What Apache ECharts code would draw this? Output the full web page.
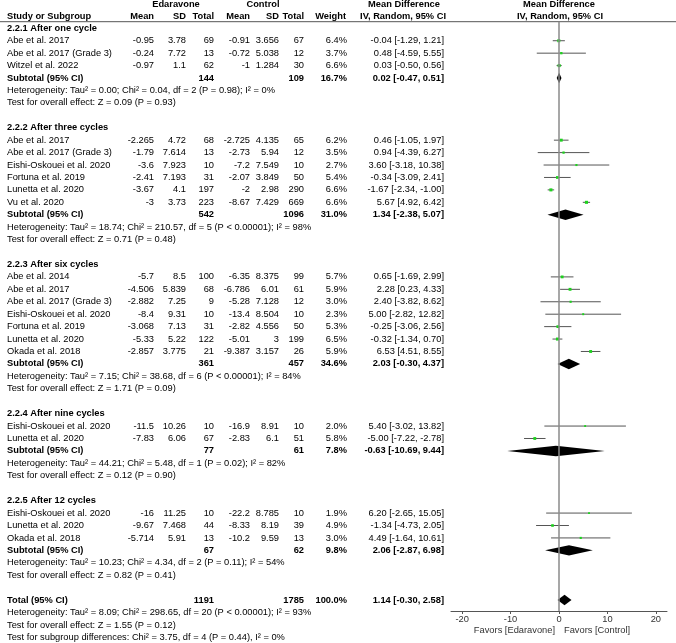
<!DOCTYPE html>
<html>
<head>
<meta charset="utf-8">
<script src="https://cdn.jsdelivr.net/npm/echarts@6/dist/echarts.min.js"></script>
<style>
html, body { margin: 0; padding: 0; background: #fff; }
#main { width: 676px; height: 643px; }
</style>
</head>
<body>
<div id="main"></div>
<script>
// subgroups
var groupTitles = ['2.2.1 After one cycle', '2.2.2 After three cycles', '2.2.3 After six cycles', '2.2.4 After nine cycles', '2.2.5 After 12 cycles'];
var subE = [144, 542, 361, 77, 67];
var subC = [109, 1096, 457, 61, 62];
var subW = [16.7, 31.0, 34.6, 7.8, 9.8];
var subMd = [0.02, 1.34, 2.03, -0.63, 2.06];
var subLo = [-0.47, -2.38, -0.30, -10.69, -2.87];
var subHi = [0.51, 5.07, 4.37, 9.44, 6.98];
var hetText = [
    'Heterogeneity: Tau² = 0.00; Chi² = 0.04, df = 2 (P = 0.98); I² = 0%',
    'Heterogeneity: Tau² = 18.74; Chi² = 210.57, df = 5 (P < 0.00001); I² = 98%',
    'Heterogeneity: Tau² = 7.15; Chi² = 38.68, df = 6 (P < 0.00001); I² = 84%',
    'Heterogeneity: Tau² = 44.21; Chi² = 5.48, df = 1 (P = 0.02); I² = 82%',
    'Heterogeneity: Tau² = 10.23; Chi² = 4.34, df = 2 (P = 0.11); I² = 54%'
];
var testText = [
    'Test for overall effect: Z = 0.09 (P = 0.93)',
    'Test for overall effect: Z = 0.71 (P = 0.48)',
    'Test for overall effect: Z = 1.71 (P = 0.09)',
    'Test for overall effect: Z = 0.12 (P = 0.90)',
    'Test for overall effect: Z = 0.82 (P = 0.41)'
];

// studies
var studyGroup = [0, 0, 0, 1, 1, 1, 1, 1, 1, 2, 2, 2, 2, 2, 2, 2, 3, 3, 4, 4, 4];
var studyNames = ['Abe et al. 2017', 'Abe et al. 2017 (Grade 3)', 'Witzel et al. 2022',
    'Abe et al. 2017', 'Abe et al. 2017 (Grade 3)', 'Eishi-Oskouei et al. 2020', 'Fortuna et al. 2019', 'Lunetta et al. 2020', 'Vu et al. 2020',
    'Abe et al. 2014', 'Abe et al. 2017', 'Abe et al. 2017 (Grade 3)', 'Eishi-Oskouei et al. 2020', 'Fortuna et al. 2019', 'Lunetta et al. 2020', 'Okada et al. 2018',
    'Eishi-Oskouei et al. 2020', 'Lunetta et al. 2020',
    'Eishi-Oskouei et al. 2020', 'Lunetta et al. 2020', 'Okada et al. 2018'];
var eMean = [-0.95, -0.24, -0.97, -2.265, -1.79, -3.6, -2.41, -3.67, -3, -5.7, -4.506, -2.882, -8.4, -3.068, -5.33, -2.857, -11.5, -7.83, -16, -9.67, -5.714];
var eSD = [3.78, 7.72, 1.1, 4.72, 7.614, 7.923, 7.193, 4.1, 3.73, 8.5, 5.839, 7.25, 9.31, 7.13, 5.22, 3.775, 10.26, 6.06, 11.25, 7.468, 5.91];
var eN = [69, 13, 62, 68, 13, 10, 31, 197, 223, 100, 68, 9, 10, 31, 122, 21, 10, 67, 10, 44, 13];
var cMean = [-0.91, -0.72, -1, -2.725, -2.73, -7.2, -2.07, -2, -8.67, -6.35, -6.786, -5.28, -13.4, -2.82, -5.01, -9.387, -16.9, -2.83, -22.2, -8.33, -10.2];
var cSD = [3.656, 5.038, 1.284, 4.135, 5.94, 7.549, 3.849, 2.98, 7.429, 8.375, 6.01, 7.128, 8.504, 4.556, 3, 3.157, 8.91, 6.1, 8.785, 8.19, 9.59];
var cN = [67, 12, 30, 65, 12, 10, 50, 290, 669, 99, 61, 12, 10, 50, 199, 26, 10, 51, 10, 39, 13];
var weight = [6.4, 3.7, 6.6, 6.2, 3.5, 2.7, 5.4, 6.6, 6.6, 5.7, 5.9, 3.0, 2.3, 5.3, 6.5, 5.9, 2.0, 5.8, 1.9, 4.9, 3.0];
var md = [-0.04, 0.48, 0.03, 0.46, 0.94, 3.60, -0.34, -1.67, 5.67, 0.65, 2.28, 2.40, 5.00, -0.25, -0.32, 6.53, 5.40, -5.00, 6.20, -1.34, 4.49];
var ciLo = [-1.29, -4.59, -0.50, -1.05, -4.39, -3.18, -3.09, -2.34, 4.92, -1.69, 0.23, -3.82, -2.82, -3.06, -1.34, 4.51, -3.02, -7.22, -2.65, -4.73, -1.64];
var ciHi = [1.21, 5.55, 0.56, 1.97, 6.27, 10.38, 2.41, -1.00, 6.42, 2.99, 4.33, 8.62, 12.82, 2.56, 0.70, 8.55, 13.82, -2.78, 15.05, 2.05, 10.61];

// overall
var totalE = 1191, totalC = 1785, totalW = 100.0;
var totalMd = 1.14, totalLo = -0.30, totalHi = 2.58;
var totalNotes = [
    'Heterogeneity: Tau² = 8.09; Chi² = 298.65, df = 20 (P < 0.00001); I² = 93%',
    'Test for overall effect: Z = 1.55 (P = 0.12)',
    'Test for subgroup differences: Chi² = 3.75, df = 4 (P = 0.44), I² = 0%'
];
var xTicks = [-20, -10, 0, 10, 20];

// layout
var ROW0 = 28.3, ROWH = 12.43, PLOT_TOP = 21.7, PLOT_BOTTOM = 611;
var COL = { name: 7, eMean: 154, eSD: 186, eN: 214, cMean: 250, cSD: 279, cN: 304, w: 347, ci: 444 };
var FONT = '"Liberation Sans", Arial, sans-serif';

var texts = [];      // table text
var studyMarks = []; // [md, row, lo, hi, weight]
var diamonds = [];   // [md, row, lo, hi]

function addText(x, row, s, align, bold, color) {
    texts.push([x, row, texts.length]);
    texts[texts.length - 1].meta = { s: String(s), a: align, b: !!bold, c: color || '#000' };
}
function ciStr(m, l, h) {
    return m.toFixed(2) + ' [' + l.toFixed(2) + ', ' + h.toFixed(2) + ']';
}

// headers
var h1 = (4 - ROW0) / ROWH, h2 = (16.5 - ROW0) / ROWH;
addText(176, h1, 'Edaravone', 'center', true);
addText(263, h1, 'Control', 'center', true);
addText(404, h1, 'Mean Difference', 'center', true);
addText(559, h1, 'Mean Difference', 'center', true);
addText(COL.name, h2, 'Study or Subgroup', 'left', true);
addText(COL.eMean, h2, 'Mean', 'right', true);
addText(COL.eSD, h2, 'SD', 'right', true);
addText(COL.eN, h2, 'Total', 'right', true);
addText(COL.cMean, h2, 'Mean', 'right', true);
addText(COL.cSD, h2, 'SD', 'right', true);
addText(COL.cN, h2, 'Total', 'right', true);
addText(COL.w - 1, h2, 'Weight', 'right', true);
addText(COL.ci + 2, h2, 'IV, Random, 95% CI', 'right', true);
addText(560, h2, 'IV, Random, 95% CI', 'center', true);

var r = 0;
for (var g = 0; g < groupTitles.length; g++) {
    addText(COL.name, r, groupTitles[g], 'left', true);
    r++;
    for (var i = 0; i < studyNames.length; i++) {
        if (studyGroup[i] !== g) continue;
        addText(COL.name, r, studyNames[i], 'left');
        addText(COL.eMean, r, eMean[i], 'right');
        addText(COL.eSD, r, eSD[i], 'right');
        addText(COL.eN, r, eN[i], 'right');
        addText(COL.cMean, r, cMean[i], 'right');
        addText(COL.cSD, r, cSD[i], 'right');
        addText(COL.cN, r, cN[i], 'right');
        addText(COL.w, r, weight[i].toFixed(1) + '%', 'right');
        addText(COL.ci, r, ciStr(md[i], ciLo[i], ciHi[i]), 'right');
        studyMarks.push([md[i], r, ciLo[i], ciHi[i], weight[i]]);
        r++;
    }
    addText(COL.name, r, 'Subtotal (95% CI)', 'left', true);
    addText(COL.eN, r, subE[g], 'right', true);
    addText(COL.cN, r, subC[g], 'right', true);
    addText(COL.w, r, subW[g].toFixed(1) + '%', 'right', true);
    addText(COL.ci, r, ciStr(subMd[g], subLo[g], subHi[g]), 'right', true);
    diamonds.push([subMd[g], r, subLo[g], subHi[g]]);
    r++;
    addText(COL.name, r, hetText[g], 'left');
    r++;
    addText(COL.name, r, testText[g], 'left');
    r += 2;
}
addText(COL.name, r, 'Total (95% CI)', 'left', true);
addText(COL.eN, r, totalE, 'right', true);
addText(COL.cN, r, totalC, 'right', true);
addText(COL.w, r, totalW.toFixed(1) + '%', 'right', true);
addText(COL.ci, r, ciStr(totalMd, totalLo, totalHi), 'right', true);
diamonds.push([totalMd, r, totalLo, totalHi]);
for (var k = 0; k < totalNotes.length; k++) {
    addText(COL.name, r + 1 + k, totalNotes[k], 'left');
}
var favRow = (630 - ROW0) / ROWH;
addText(555, favRow, 'Favors [Edaravone]', 'right', false, '#333');
addText(564, favRow, 'Favors [Control]', 'left', false, '#333');

var plotMin = (PLOT_TOP - ROW0) / ROWH, plotMax = (PLOT_BOTTOM - ROW0) / ROWH;

var myChart = echarts.init(document.getElementById('main'));
var option = {
    animation: false,
    grid: [
        { left: 451, top: PLOT_TOP, width: 216, height: PLOT_BOTTOM - PLOT_TOP },
        { left: 0, top: 0, width: 676, height: 643 }
    ],
    xAxis: [
        {
            type: 'value', gridIndex: 0, min: -22.3, max: 22.3,
            axisLine: { show: true, onZero: false, lineStyle: { color: '#555', width: 1 } },
            axisTick: { show: true, customValues: xTicks, length: 3, lineStyle: { color: '#555' } },
            axisLabel: { customValues: xTicks, margin: 4, fontSize: 9.3, color: '#333', fontFamily: FONT },
            splitLine: { show: false }
        },
        { type: 'value', gridIndex: 1, min: 0, max: 676, show: false }
    ],
    yAxis: [
        { type: 'value', gridIndex: 0, min: plotMin, max: plotMax, inverse: true, show: false },
        { type: 'value', gridIndex: 1, min: -ROW0 / ROWH, max: (643 - ROW0) / ROWH, inverse: true, show: false }
    ],
    series: [
        {   // header rule
            type: 'line', xAxisIndex: 1, yAxisIndex: 1, symbol: 'none', silent: true,
            lineStyle: { color: '#555', width: 1 },
            data: [[0, plotMin], [676, plotMin]]
        },
        {   // line of no effect
            type: 'line', xAxisIndex: 0, yAxisIndex: 0, symbol: 'none', silent: true,
            lineStyle: { color: '#8a8a8a', width: 1.5 },
            data: [[0, plotMin], [0, plotMax]]
        },
        {   // studies
            type: 'custom', xAxisIndex: 0, yAxisIndex: 0, silent: true,
            data: studyMarks,
            renderItem: function (params, api) {
                var a = api.coord([api.value(2), api.value(1)]);
                var b = api.coord([api.value(3), api.value(1)]);
                var c = api.coord([api.value(0), api.value(1)]);
                var s = 1.4 + api.value(4) * 0.25;
                return {
                    type: 'group',
                    children: [
                        { type: 'line', shape: { x1: a[0], y1: a[1], x2: b[0], y2: b[1] }, style: { stroke: '#555', lineWidth: 1 } },
                        { type: 'rect', shape: { x: c[0] - s / 2, y: c[1] - s / 2, width: s, height: s }, style: { fill: '#1ed21e' } }
                    ]
                };
            }
        },
        {   // pooled diamonds
            type: 'custom', xAxisIndex: 0, yAxisIndex: 0, silent: true,
            data: diamonds,
            renderItem: function (params, api) {
                var row = api.value(1), h = 0.42;
                var pts = [
                    api.coord([api.value(2), row]),
                    api.coord([api.value(0), row - h]),
                    api.coord([api.value(3), row]),
                    api.coord([api.value(0), row + h])
                ];
                return { type: 'polygon', shape: { points: pts }, style: { fill: '#000' } };
            }
        },
        {   // table text
            type: 'custom', xAxisIndex: 1, yAxisIndex: 1, silent: true,
            data: texts,
            renderItem: function (params, api) {
                var m = texts[params.dataIndex].meta;
                var p = api.coord([api.value(0), api.value(1)]);
                return {
                    type: 'text', x: p[0], y: p[1],
                    style: {
                        text: m.s, align: m.a, verticalAlign: 'middle',
                        font: (m.b ? 'bold ' : '') + '9.3px ' + FONT, fill: m.c
                    }
                };
            }
        }
    ]
};
myChart.setOption(option);
</script>
</body>
</html>
